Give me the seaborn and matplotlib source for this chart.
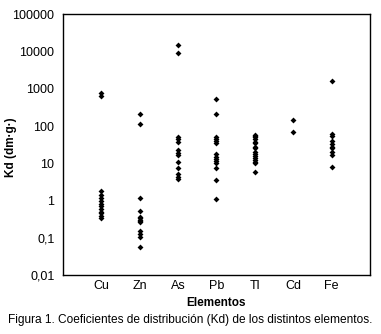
import numpy as np
import pandas as pd
import matplotlib
matplotlib.use("Agg")
import matplotlib.pyplot as plt
import seaborn as sns
from matplotlib.ticker import FixedLocator, FixedFormatter, NullLocator

sns.set_theme(style="white")
plt.rcParams["font.family"] = ["Liberation Sans", "DejaVu Sans"]
plt.rcParams["text.color"] = "black"
plt.rcParams["axes.labelcolor"] = "black"

# Distribution coefficients (Kd) measured for each element
elements = ["Cu", "Zn", "As", "Pb", "Tl", "Cd", "Fe"]
kd_cu = [750, 650, 1.8, 1.4, 1.15, 0.95, 0.8, 0.7, 0.6, 0.5, 0.45, 0.38, 0.33]
kd_zn = [210, 115, 1.15, 0.52, 0.36, 0.33, 0.3, 0.28, 0.26, 0.15, 0.125, 0.105, 0.055]
kd_as = [15000, 9000, 52, 45, 38, 22, 19, 17, 10.5, 7.3, 5.2, 4.3, 3.7]
kd_pb = [520, 210, 52, 45, 40, 34, 18, 15, 13, 11.5, 10, 7.3, 3.5, 1.1]
kd_tl = [58, 54, 50, 46, 38, 34, 28, 25, 20, 18, 16, 14, 12.5, 11, 10, 5.8]
kd_cd = [145, 70]
kd_fe = [1650, 62, 55, 40, 33, 28, 25, 20, 17, 8]

y_ticks = [0.01, 0.1, 1, 10, 100, 1000, 10000, 100000]
y_tick_labels = ["0,01", "0,1", "1", "10", "100", "1000", "10000", "100000"]

series = [kd_cu, kd_zn, kd_as, kd_pb, kd_tl, kd_cd, kd_fe]
df = pd.DataFrame({
    "Elemento": [el for el, vals in zip(elements, series) for _ in vals],
    "Kd": [v for vals in series for v in vals],
})

fig = plt.figure(figsize=(3.81, 3.34), dpi=100)
ax = fig.add_axes([0.165, 0.177, 0.806, 0.780])

sns.stripplot(data=df, x="Elemento", y="Kd", order=elements, jitter=False,
              color="black", marker="D", size=3.0, linewidth=0, ax=ax,
              log_scale=True)

ax.set_yscale("log")
ax.set_ylim(0.01, 100000)
ax.set_xlim(-1, len(elements))
ax.yaxis.set_major_locator(FixedLocator(y_ticks))
ax.yaxis.set_major_formatter(FixedFormatter(y_tick_labels))
ax.yaxis.set_minor_locator(NullLocator())
ax.tick_params(axis="both", length=0, labelsize=9, colors="black")
ax.tick_params(axis="x", pad=4)
ax.tick_params(axis="y", pad=6)

for s in ax.spines.values():
    s.set_visible(True)
    s.set_color("black")
    s.set_linewidth(1.0)

ax.set_xlabel("Elementos", fontsize=8.5, fontweight="bold", labelpad=3, color="black")
ax.set_ylabel("Kd (dm·g·)", fontsize=8.5, fontweight="bold", color="black")
ax.yaxis.set_label_coords(-0.150, 0.49)

fig.text(0.5, 0.042, "Figura 1. Coeficientes de distribución (Kd) de los distintos elementos.",
         ha="center", va="center", fontsize=8.6, color="black")

fig.savefig("out.png", dpi=100)
